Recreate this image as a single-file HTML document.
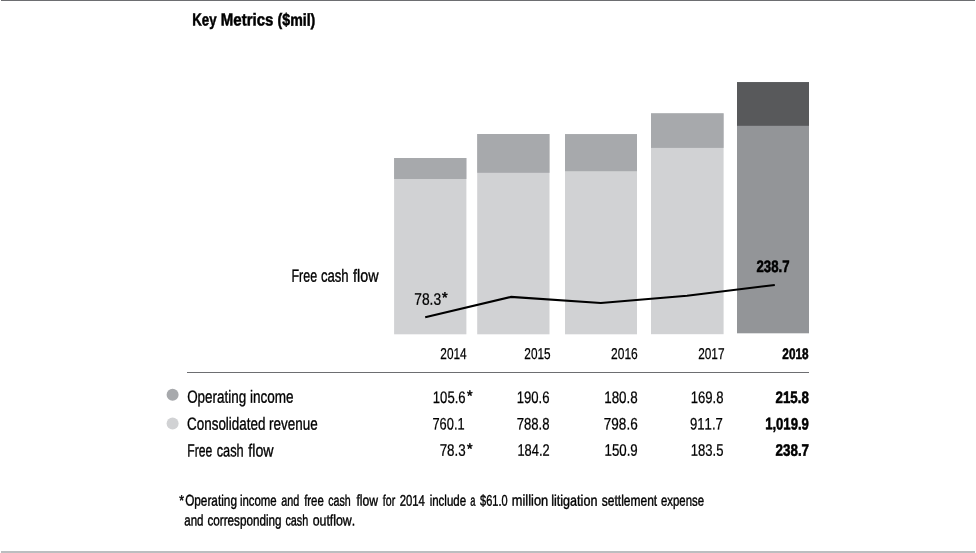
<!DOCTYPE html>
<html lang="en">
<head>
<meta charset="utf-8">
<title>Key Metrics ($mil)</title>
<style>
html,body{margin:0;padding:0;background:#fff;}
body{width:976px;height:553px;overflow:hidden;font-family:"Liberation Sans", sans-serif;}
svg{display:block;}
text{font-family:"Liberation Sans", sans-serif;fill:#000;stroke:#000;font-kerning:none;font-variant-ligatures:none;white-space:pre;}
.b{font-weight:bold;}
</style>
</head>
<body>
<svg width="976" height="553" viewBox="0 0 976 553">
<rect x="0" y="0" width="976" height="553" fill="#fff"/>
<rect x="1" y="0" width="974" height="1" fill="#6d6e71"/>
<rect x="1" y="551" width="974" height="2" fill="#bcbec0"/>
<rect x="394.1" y="158.0" width="72.3" height="176.3" fill="#d1d2d4"/>
<rect x="394.1" y="158.0" width="72.3" height="21.0" fill="#a7a9ac"/>
<rect x="477.2" y="134.0" width="72.3" height="200.3" fill="#d1d2d4"/>
<rect x="477.2" y="134.0" width="72.3" height="38.8" fill="#a7a9ac"/>
<rect x="565.0" y="134.1" width="72.0" height="200.2" fill="#d1d2d4"/>
<rect x="565.0" y="134.1" width="72.0" height="37.1" fill="#a7a9ac"/>
<rect x="651.0" y="113.3" width="72.6" height="220.9" fill="#d1d2d4"/>
<rect x="651.0" y="113.3" width="72.6" height="34.6" fill="#a7a9ac"/>
<rect x="737.0" y="82.1" width="72.0" height="251.2" fill="#939598"/>
<rect x="737.0" y="82.1" width="72.0" height="43.7" fill="#58595b"/>
<polyline fill="none" stroke="#000" stroke-width="2.1" stroke-linejoin="round" points="425.2,317.3 510.8,296.9 600.8,303.0 687,295.7 774.8,285.0"/>
<rect x="187" y="372" width="622" height="1" fill="#6d6e71"/>
<circle cx="172.6" cy="394.7" r="6" fill="#a7a9ac"/>
<circle cx="172.6" cy="423.5" r="6" fill="#d1d2d4"/>
<text y="25.60" font-size="17.3" class="b" stroke-width="0.5" transform="rotate(0.05 254 26)"><tspan x="192.27" textLength="24.26" lengthAdjust="spacingAndGlyphs">Key</tspan><tspan font-size="1"> </tspan><tspan x="220.85" textLength="52.52" lengthAdjust="spacingAndGlyphs">Metrics</tspan><tspan font-size="1"> </tspan><tspan x="277.54" textLength="37.81" lengthAdjust="spacingAndGlyphs">($mil)</tspan></text>
<text y="281.70" font-size="17.7" stroke-width="0.35" transform="rotate(0.05 336 282)"><tspan x="291.50" textLength="25.57" lengthAdjust="spacingAndGlyphs">Free</tspan><tspan font-size="1"> </tspan><tspan x="320.92" textLength="27.76" lengthAdjust="spacingAndGlyphs">cash</tspan><tspan font-size="1"> </tspan><tspan x="353.07" textLength="25.42" lengthAdjust="spacingAndGlyphs">flow</tspan></text>
<text y="304.65" font-size="16.6" stroke-width="0.25" transform="rotate(0.05 428 305)"><tspan x="414.22" textLength="26.86" lengthAdjust="spacingAndGlyphs">78.3</tspan></text>
<text y="302.60" font-size="14.8" stroke-width="0.5" transform="rotate(0.05 445 303)"><tspan x="442.12" textLength="5.66" lengthAdjust="spacingAndGlyphs">*</tspan></text>
<text y="271.90" font-size="16.6" class="b" stroke-width="0.55" transform="rotate(0.05 773 272)"><tspan x="756.52" textLength="32.99" lengthAdjust="spacingAndGlyphs">238.7</tspan></text>
<text y="359.10" font-size="15.7" stroke-width="0.25" transform="rotate(0.05 454 359)"><tspan x="440.33" textLength="26.29" lengthAdjust="spacingAndGlyphs">2014</tspan></text>
<text y="359.10" font-size="15.7" stroke-width="0.25" transform="rotate(0.05 538 359)"><tspan x="524.33" textLength="26.24" lengthAdjust="spacingAndGlyphs">2015</tspan></text>
<text y="359.10" font-size="15.7" stroke-width="0.25" transform="rotate(0.05 624 359)"><tspan x="611.12" textLength="26.68" lengthAdjust="spacingAndGlyphs">2016</tspan></text>
<text y="359.10" font-size="15.7" stroke-width="0.25" transform="rotate(0.05 711 359)"><tspan x="698.13" textLength="26.34" lengthAdjust="spacingAndGlyphs">2017</tspan></text>
<text y="359.10" font-size="15.299999999999999" class="b" stroke-width="0.55" transform="rotate(0.05 795 359)"><tspan x="782.37" textLength="26.12" lengthAdjust="spacingAndGlyphs">2018</tspan></text>
<text y="402.80" font-size="17.7" stroke-width="0.35" transform="rotate(0.05 240 403)"><tspan x="187.14" textLength="59.05" lengthAdjust="spacingAndGlyphs">Operating</tspan><tspan font-size="1"> </tspan><tspan x="249.97" textLength="43.66" lengthAdjust="spacingAndGlyphs">income</tspan></text>
<text y="429.70" font-size="17.7" stroke-width="0.35" transform="rotate(0.05 252 430)"><tspan x="187.09" textLength="78.30" lengthAdjust="spacingAndGlyphs">Consolidated</tspan><tspan font-size="1"> </tspan><tspan x="269.08" textLength="48.54" lengthAdjust="spacingAndGlyphs">revenue</tspan></text>
<text y="456.45" font-size="17.7" stroke-width="0.35" transform="rotate(0.05 231 456)"><tspan x="187.28" textLength="24.99" lengthAdjust="spacingAndGlyphs">Free</tspan><tspan font-size="1"> </tspan><tspan x="216.63" textLength="27.02" lengthAdjust="spacingAndGlyphs">cash</tspan><tspan font-size="1"> </tspan><tspan x="248.37" textLength="25.22" lengthAdjust="spacingAndGlyphs">flow</tspan></text>
<text y="402.90" font-size="16.6" stroke-width="0.25" transform="rotate(0.05 449 403)"><tspan x="432.83" textLength="32.83" lengthAdjust="spacingAndGlyphs">105.6</tspan></text>
<text y="402.90" font-size="16.6" stroke-width="0.25" transform="rotate(0.05 533 403)"><tspan x="516.73" textLength="32.83" lengthAdjust="spacingAndGlyphs">190.6</tspan></text>
<text y="402.90" font-size="16.6" stroke-width="0.25" transform="rotate(0.05 621 403)"><tspan x="604.21" textLength="33.45" lengthAdjust="spacingAndGlyphs">180.8</tspan></text>
<text y="402.90" font-size="16.6" stroke-width="0.25" transform="rotate(0.05 707 403)"><tspan x="690.73" textLength="32.71" lengthAdjust="spacingAndGlyphs">169.8</tspan></text>
<text y="402.90" font-size="16.6" class="b" stroke-width="0.55" transform="rotate(0.05 792 403)"><tspan x="775.61" textLength="33.22" lengthAdjust="spacingAndGlyphs">215.8</tspan></text>
<text y="429.40" font-size="16.6" stroke-width="0.25" transform="rotate(0.05 449 429)"><tspan x="432.47" textLength="32.14" lengthAdjust="spacingAndGlyphs">760.1</tspan></text>
<text y="429.40" font-size="16.6" stroke-width="0.25" transform="rotate(0.05 533 429)"><tspan x="516.75" textLength="32.79" lengthAdjust="spacingAndGlyphs">788.8</tspan></text>
<text y="429.40" font-size="16.6" stroke-width="0.25" transform="rotate(0.05 621 429)"><tspan x="603.83" textLength="33.84" lengthAdjust="spacingAndGlyphs">798.6</tspan></text>
<text y="429.40" font-size="16.6" stroke-width="0.25" transform="rotate(0.05 706 429)"><tspan x="690.01" textLength="32.82" lengthAdjust="spacingAndGlyphs">911.7</tspan></text>
<text y="429.40" font-size="16.6" class="b" stroke-width="0.55" transform="rotate(0.05 787 429)"><tspan x="765.15" textLength="43.76" lengthAdjust="spacingAndGlyphs">1,019.9</tspan></text>
<text y="455.75" font-size="16.6" stroke-width="0.25" transform="rotate(0.05 453 456)"><tspan x="439.64" textLength="26.02" lengthAdjust="spacingAndGlyphs">78.3</tspan></text>
<text y="455.75" font-size="16.6" stroke-width="0.25" transform="rotate(0.05 534 456)"><tspan x="517.45" textLength="32.18" lengthAdjust="spacingAndGlyphs">184.2</tspan></text>
<text y="455.75" font-size="16.6" stroke-width="0.25" transform="rotate(0.05 621 456)"><tspan x="604.51" textLength="33.19" lengthAdjust="spacingAndGlyphs">150.9</tspan></text>
<text y="455.75" font-size="16.6" stroke-width="0.25" transform="rotate(0.05 707 456)"><tspan x="690.73" textLength="32.69" lengthAdjust="spacingAndGlyphs">183.5</tspan></text>
<text y="455.75" font-size="16.6" class="b" stroke-width="0.55" transform="rotate(0.05 792 456)"><tspan x="775.61" textLength="33.40" lengthAdjust="spacingAndGlyphs">238.7</tspan></text>
<text y="400.80" font-size="14.8" stroke-width="0.5" transform="rotate(0.05 470 401)"><tspan x="467.02" textLength="5.55" lengthAdjust="spacingAndGlyphs">*</tspan></text>
<text y="453.65" font-size="14.8" stroke-width="0.5" transform="rotate(0.05 470 454)"><tspan x="467.02" textLength="5.55" lengthAdjust="spacingAndGlyphs">*</tspan></text>
<text y="505.30" font-size="14.5" stroke-width="0.45" transform="rotate(0.05 182 505)"><tspan x="179.13" textLength="4.74" lengthAdjust="spacingAndGlyphs">*</tspan></text>
<text y="505.70" font-size="15.4" stroke-width="0.4" transform="rotate(0.05 268 506)"><tspan x="185.14" textLength="51.82" lengthAdjust="spacingAndGlyphs">Operating</tspan><tspan font-size="1"> </tspan><tspan x="239.94" textLength="36.77" lengthAdjust="spacingAndGlyphs">income</tspan><tspan font-size="1"> </tspan><tspan x="281.34" textLength="18.06" lengthAdjust="spacingAndGlyphs">and</tspan><tspan font-size="1"> </tspan><tspan x="304.14" textLength="19.67" lengthAdjust="spacingAndGlyphs">free</tspan><tspan font-size="1"> </tspan><tspan x="328.15" textLength="22.55" lengthAdjust="spacingAndGlyphs">cash</tspan></text>
<text y="505.70" font-size="15.4" stroke-width="0.4" transform="rotate(0.05 432 506)"><tspan x="356.43" textLength="21.54" lengthAdjust="spacingAndGlyphs">flow</tspan><tspan font-size="1"> </tspan><tspan x="382.85" textLength="12.32" lengthAdjust="spacingAndGlyphs">for</tspan><tspan font-size="1"> </tspan><tspan x="399.63" textLength="25.20" lengthAdjust="spacingAndGlyphs">2014</tspan><tspan font-size="1"> </tspan><tspan x="429.63" textLength="36.48" lengthAdjust="spacingAndGlyphs">include</tspan><tspan font-size="1"> </tspan><tspan x="470.20" textLength="5.20" lengthAdjust="spacingAndGlyphs">a</tspan><tspan font-size="1"> </tspan><tspan x="480.08" textLength="27.45" lengthAdjust="spacingAndGlyphs">$61.0</tspan></text>
<text y="505.70" font-size="15.4" stroke-width="0.4" transform="rotate(0.05 608 506)"><tspan x="511.85" textLength="36.28" lengthAdjust="spacingAndGlyphs">million</tspan><tspan font-size="1"> </tspan><tspan x="551.15" textLength="46.27" lengthAdjust="spacingAndGlyphs">litigation</tspan><tspan font-size="1"> </tspan><tspan x="601.77" textLength="55.42" lengthAdjust="spacingAndGlyphs">settlement</tspan><tspan font-size="1"> </tspan><tspan x="661.02" textLength="42.99" lengthAdjust="spacingAndGlyphs">expense</tspan></text>
<text y="525.55" font-size="15.4" stroke-width="0.4" transform="rotate(0.05 269 526)"><tspan x="184.31" textLength="19.23" lengthAdjust="spacingAndGlyphs">and</tspan><tspan font-size="1"> </tspan><tspan x="207.50" textLength="74.05" lengthAdjust="spacingAndGlyphs">corresponding</tspan><tspan font-size="1"> </tspan><tspan x="285.44" textLength="22.86" lengthAdjust="spacingAndGlyphs">cash</tspan><tspan font-size="1"> </tspan><tspan x="312.68" textLength="42.55" lengthAdjust="spacingAndGlyphs">outflow.</tspan></text>
</svg>
</body>
</html>
